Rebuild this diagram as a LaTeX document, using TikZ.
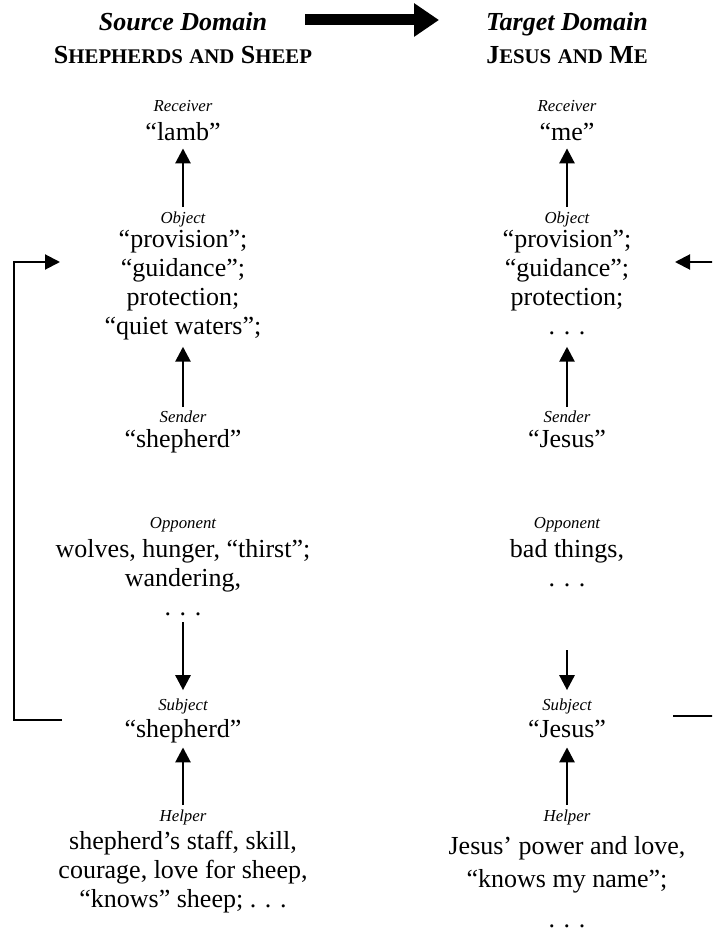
\documentclass[tikz,border=0pt]{standalone}
\usepackage{fontspec}
\setmainfont{Liberation Serif}
\usetikzlibrary{arrows.meta}

% small capitals built from two sizes of upper case
\newcommand\fsc[2]{#1{\fontsize{20.8}{21}\selectfont #2}}
\newcommand\fss[1]{{\fontsize{20.8}{21}\selectfont #1}}

\begin{document}
\begin{tikzpicture}[x=1pt,y=-1pt,
  ttl/.style={font=\fontsize{26}{29}\selectfont\bfseries\itshape, inner sep=0pt, anchor=base},
  sc/.style={font=\fontsize{26}{29}\selectfont\bfseries, inner sep=0pt, anchor=base},
  lab/.style={font=\fontsize{16.8}{20}\selectfont\itshape, inner sep=0pt, anchor=base},
  txt/.style={font=\fontsize{26}{29}\selectfont, align=center, inner sep=0pt, anchor=north,
    execute at begin node=\rule{0pt}{18pt},
    execute at end node=\rule[-6pt]{0pt}{6pt}},
  uparr/.style={-{Triangle[length=15pt,width=15pt]}, line width=2.7pt},
  brk/.style={-{Triangle[length=15pt,width=15pt]}, line width=2pt},
  bigarr/.style={-{Triangle[length=25pt,width=32pt]}, line width=11pt}]

\useasboundingbox (0,0) rectangle (712,933);
\clip (0,0) rectangle (712,933);

% ---------- headings ----------
\node[ttl] (srcT) at (183,31) {Source Domain};
\node[sc]  (srcS) at (183,64) {\fsc{S}{HEPHERDS} \fss{AND} \fsc{S}{HEEP}};
\node[ttl] (tgtT) at (567,31) {Target Domain};
\node[sc]  (tgtS) at (567,64) {\fsc{J}{ESUS} \fss{AND} \fsc{M}{E}};
\coordinate (mapA) at (305,20);
\coordinate (mapB) at (439,20);
\draw[bigarr] (mapA) -- (mapB);

% ---------- source domain column ----------
\node[lab] (recL)  at (183,112) {Receiver};
\node[txt] (recLt) at (183,122) {“lamb”};
\node[lab] (objL)  at (183,223) {Object};
\node[txt] (objLt) at (183,230) {“provision”;\\“guidance”;\\protection;\\“quiet waters”;};
\node[lab] (sndL)  at (183,422) {Sender};
\node[txt] (sndLt) at (183,429) {“shepherd”};
\node[lab] (oppL)  at (183,528) {Opponent};
\node[txt] (oppLt) at (183,539) {wolves, hunger, “thirst”;\\wandering,\\. . .};
\node[lab] (subL)  at (183,710) {Subject};
\node[txt] (subLt) at (183,719) {“shepherd”};
\node[lab] (hlpL)  at (183,821) {Helper};
\node[txt] (hlpLt) at (183,831) {shepherd’s staff, skill,\\courage, love for sheep,\\“knows” sheep; . . .};

\draw[uparr, shorten <=4pt, shorten >=2pt] (objL.north) -- (recLt.south);
\draw[uparr, shorten <=3pt, shorten >=6pt] (sndL.north) -- (objLt.south);
\draw[uparr, shorten <=1pt, shorten >=8pt] (oppLt.south) -- (subL.north);
\draw[uparr, shorten <=4pt, shorten >=4pt] (hlpL.north) -- (subLt.south);

% ---------- target domain column ----------
\node[lab] (recR)  at (567,112) {Receiver};
\node[txt] (recRt) at (567,122) {“me”};
\node[lab] (objR)  at (567,223) {Object};
\node[txt] (objRt) at (567,230) {“provision”;\\“guidance”;\\protection;\\. . .};
\node[lab] (sndR)  at (567,422) {Sender};
\node[txt] (sndRt) at (567,429) {“Jesus”};
\node[lab] (oppR)  at (567,528) {Opponent};
\node[txt] (oppRt) at (567,539) {bad things,\\. . .};
\node[lab] (subR)  at (567,710) {Subject};
\node[txt] (subRt) at (567,719) {“Jesus”};
\node[lab] (hlpR)  at (567,821) {Helper};
\node[txt, font=\fontsize{26}{33}\selectfont] (hlpRt) at (567,836) {Jesus’ power and love,\\“knows my name”;\\[7pt]. . .};

\draw[uparr, shorten <=4pt, shorten >=2pt] (objR.north) -- (recRt.south);
\draw[uparr, shorten <=3pt, shorten >=6pt] (sndR.north) -- (objRt.south);
\draw[uparr, shorten <=58pt, shorten >=8pt] (oppRt.south) -- (subR.north);
\draw[uparr, shorten <=4pt, shorten >=4pt] (hlpR.north) -- (subRt.south);

% ---------- subject-to-object feedback lines ----------
\coordinate (fbL1) at (62,720);
\coordinate (fbLc) at (14,720);
\coordinate (fbL2) at (60,262);
\draw[brk] (fbL1) -- (fbLc) |- (fbL2);

\coordinate (fbR1) at (673,716);
\coordinate (fbRc) at (730,716);
\coordinate (fbR2) at (675,262);
\draw[brk] (fbR1) -- (fbRc) |- (fbR2);
\end{tikzpicture}
\end{document}
